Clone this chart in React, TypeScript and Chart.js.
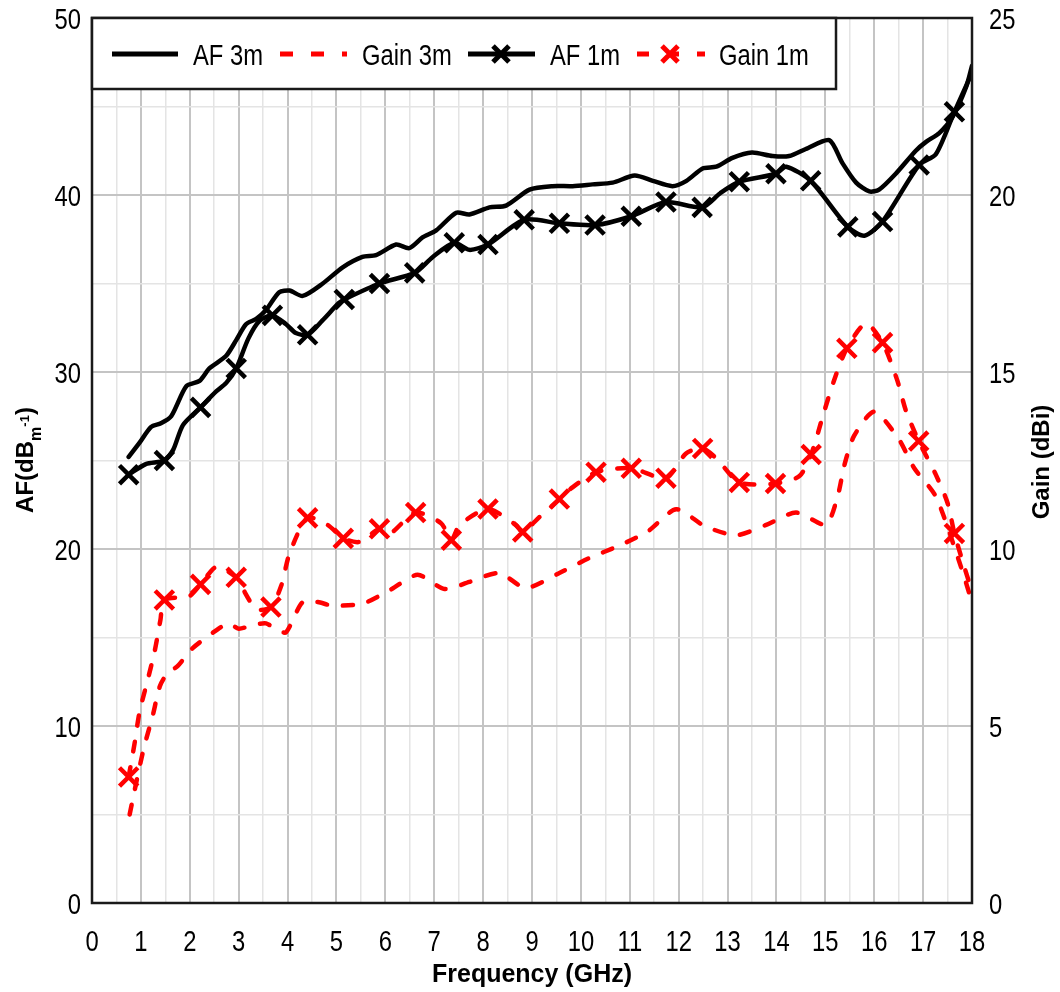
import { useEffect, useRef } from "react";
import { Chart, registerables } from "chart.js";

Chart.register(...registerables);

// ---------- tick labels ----------
const freqTicks = [0, 1, 2, 3, 4, 5, 6, 7, 8, 9, 10, 11, 12, 13, 14, 15, 16, 17, 18];
const afTicks = [0, 10, 20, 30, 40, 50];
const gainTicks = [0, 5, 10, 15, 20, 25];

const seriesNames = ["AF 3m", "Gain 3m", "AF 1m", "Gain 1m"];
const xTitle = "Frequency (GHz)";
const rightTitle = "Gain (dBi)";

// ---------- AF 3m (dB/m) ----------
const af3mFreq = [
  0.75, 0.97, 1.21, 1.41, 1.62, 1.93, 2.2, 2.4, 2.74, 2.95, 3.15, 3.36, 3.56, 3.83, 4.04, 4.31,
  4.72, 5.12, 5.53, 5.81, 6.22, 6.49, 6.76, 7.04, 7.45, 7.72, 8.13, 8.47, 8.95, 9.42, 9.83,
  10.24, 10.65, 11.1, 11.47, 11.87, 12.16, 12.49, 12.77, 13.1, 13.5, 13.92, 14.26, 14.6,
  15.08, 15.35, 15.63, 15.9, 16.1, 16.44, 16.85, 17.06, 17.33, 17.6, 17.88, 18.0,
];
const af3mValue = [
  25.2, 26.0, 26.9, 27.1, 27.5, 29.2, 29.5, 30.2, 30.9, 31.8, 32.7, 33.0, 33.5, 34.5, 34.6, 34.3,
  35.0, 35.9, 36.5, 36.6, 37.2, 37.0, 37.6, 38.0, 39.0, 38.9, 39.3, 39.4, 40.3, 40.5, 40.5,
  40.6, 40.7, 41.1, 40.8, 40.5, 40.8, 41.5, 41.6, 42.1, 42.4, 42.2, 42.2, 42.6,
  43.1, 41.8, 40.7, 40.2, 40.3, 41.2, 42.5, 43.0, 43.5, 44.4, 46.1, 47.3,
];

// ---------- AF 1m (dB/m): marked points + trace between them ----------
const af1mMarkFreq = [
  0.75, 1.48, 2.22, 2.95, 3.69, 4.41, 5.16, 5.88, 6.6, 7.41, 8.1, 8.84, 9.56, 10.29, 11.03,
  11.74, 12.48, 13.24, 13.99, 14.7, 15.46, 16.17, 16.92, 17.64,
];
const af1mMarkValue = [
  24.2, 25.0, 28.0, 30.2, 33.2, 32.1, 34.1, 35.0, 35.6, 37.3, 37.2, 38.6, 38.4, 38.3, 38.8,
  39.6, 39.3, 40.75, 41.2, 40.8, 38.2, 38.5, 41.7, 44.7,
];
const af1mTraceFreq = [1.1, 1.66, 1.86, 2.54, 2.75, 3.2, 3.43, 3.97, 4.17, 4.71, 5.05, 6.97, 7.72, 12.85, 14.2, 15.8, 17.26, 18.0];
const af1mTraceValue = [24.8, 25.6, 27.0, 28.9, 29.4, 31.9, 32.9, 32.7, 32.2, 32.9, 33.9, 36.5, 36.9, 40.1, 41.6, 37.7, 42.3, 46.9];

// ---------- Gain 3m (dBi) ----------
const gain3mFreq = [
  0.77, 0.92, 1.07, 1.24, 1.39, 1.55, 1.75, 2.06, 2.54, 2.8, 3.0, 3.3, 3.56, 3.8, 3.97, 4.31,
  4.62, 4.92, 5.54, 6.12, 6.66, 7.21, 7.72, 8.33, 8.87, 9.56, 10.15, 10.79, 11.37, 11.95,
  12.53, 13.17, 13.79, 14.4, 15.01, 15.25, 15.39, 15.59, 16.0, 16.49, 16.82, 17.26, 17.74, 18.0,
];
const gain3mValue = [
  2.5, 3.5, 4.43, 5.28, 6.13, 6.5, 6.69, 7.2, 7.7, 7.9, 7.75, 7.85, 7.9, 7.7, 7.65, 8.5,
  8.5, 8.4, 8.46, 8.86, 9.27, 8.87, 9.07, 9.32, 8.9, 9.32, 9.73, 10.1, 10.5, 11.12,
  10.65, 10.39, 10.68, 11.03, 10.69, 11.48, 12.37, 13.2, 13.88, 13.13, 12.28, 11.48, 9.64, 8.5,
];

// ---------- Gain 1m (dBi): marked points + trace between them ----------
const gain1mMarkFreq = [
  0.75, 1.48, 2.22, 2.95, 3.66, 4.41, 5.14, 5.88, 6.62, 7.35, 8.1, 8.81, 9.56, 10.31, 11.03,
  11.74, 12.49, 13.24, 13.98, 14.71, 15.44, 16.17, 16.91, 17.64,
];
const gain1mMarkValue = [
  3.56, 8.56, 9.0, 9.2, 8.36, 10.88, 10.3, 10.57, 11.03, 10.25, 11.13, 10.48, 11.41, 12.17, 12.28,
  12.0, 12.84, 11.88, 11.85, 12.67, 15.67, 15.83, 13.05, 10.44,
];
const gain1mTraceFreq = [
  0.87, 0.97, 1.12, 1.28, 1.4, 1.99, 2.55, 3.05, 3.36, 3.87, 4.04, 4.82, 5.47, 6.08, 7.14, 7.52,
  8.67, 9.15, 9.76, 12.15, 12.77, 14.47, 14.98, 15.18, 15.83, 16.47, 16.65, 17.26, 17.5, 17.81, 18.0,
];
const gain1mTraceValue = [
  4.5, 5.38, 6.2, 7.1, 8.0, 8.67, 9.5, 8.96, 8.3, 8.96, 9.87, 10.68, 10.2, 10.42, 10.73, 10.68,
  10.68, 10.9, 11.67, 12.7, 12.56, 12.06, 13.9, 14.77, 16.37, 14.77, 13.9, 12.1, 11.3, 9.64, 8.8,
];

// ---------- helpers ----------
const toPoints = (f: number[], v: number[]) => f.map((x, i) => ({ x, y: v[i] }));
const merged = (fa: number[], va: number[], fb: number[], vb: number[]) =>
  [...toPoints(fa, va), ...toPoints(fb, vb)].sort((a, b) => a.x - b.x);

const SANS = "'Liberation Sans', Arial, Helvetica, sans-serif";
const NARROW_FONT = `29px ${SANS}`;
const NARROW_SCALE = 0.82;
const RED = "#ff0000";
const BLACK = "#000000";
const DASH = [10, 16];

// draws condensed text (Arial-Narrow look) as real canvas text
function narrowText(
  ctx: CanvasRenderingContext2D,
  text: string,
  x: number,
  y: number,
  align: CanvasTextAlign,
  baseline: CanvasTextBaseline
) {
  ctx.save();
  ctx.translate(x, y);
  ctx.scale(NARROW_SCALE, 1);
  ctx.font = NARROW_FONT;
  ctx.textAlign = align;
  ctx.textBaseline = baseline;
  ctx.fillStyle = BLACK;
  ctx.fillText(text, 0, 0);
  ctx.restore();
}

const overlayPlugin = {
  id: "overlay",
  afterDraw(chart: any) {
    const ctx: CanvasRenderingContext2D = chart.ctx;
    const a = chart.chartArea;
    const sx = chart.scales.x;
    const sy = chart.scales.y;
    const sy2 = chart.scales.y2;
    ctx.save();
    // plot frame
    ctx.strokeStyle = "#1a1a1a";
    ctx.lineWidth = 2.5;
    ctx.strokeRect(a.left, a.top, a.right - a.left, a.bottom - a.top);

    // tick labels
    freqTicks.forEach((v) => narrowText(ctx, String(v), sx.getPixelForValue(v), a.bottom + 48, "center", "alphabetic"));
    afTicks.forEach((v) => narrowText(ctx, String(v), a.left - 11, sy.getPixelForValue(v) + 10.5, "right", "alphabetic"));
    gainTicks.forEach((v) => narrowText(ctx, String(v), a.right + 17, sy2.getPixelForValue(v) + 10.5, "left", "alphabetic"));

    // legend box
    const lx = a.left;
    const ly = a.top;
    const lw = 836 - a.left;
    const lh = 71;
    ctx.fillStyle = "#ffffff";
    ctx.fillRect(lx, ly, lw, lh);
    ctx.strokeRect(lx, ly, lw, lh);
    const cy = ly + 36;
    ctx.lineCap = "butt";

    const drawX = (x: number, color: string) => {
      ctx.save();
      ctx.strokeStyle = color;
      ctx.lineWidth = 5;
      ctx.setLineDash([]);
      ctx.beginPath();
      ctx.moveTo(x - 8, cy - 8);
      ctx.lineTo(x + 8, cy + 8);
      ctx.moveTo(x + 8, cy - 8);
      ctx.lineTo(x - 8, cy + 8);
      ctx.stroke();
      ctx.restore();
    };
    const drawLine = (x0: number, x1: number, color: string, dash: number[]) => {
      ctx.save();
      ctx.strokeStyle = color;
      ctx.lineWidth = 5;
      ctx.setLineDash(dash);
      ctx.beginPath();
      ctx.moveTo(x0, cy);
      ctx.lineTo(x1, cy);
      ctx.stroke();
      ctx.restore();
    };
    const ty = cy + 10.5;
    // AF 3m
    drawLine(112, 178, BLACK, []);
    narrowText(ctx, seriesNames[0], 193, ty, "left", "alphabetic");
    // Gain 3m
    drawLine(280, 347, RED, [13, 18]);
    narrowText(ctx, seriesNames[1], 362, ty, "left", "alphabetic");
    // AF 1m
    drawLine(468, 535, BLACK, []);
    drawX(501, BLACK);
    narrowText(ctx, seriesNames[2], 550, ty, "left", "alphabetic");
    // Gain 1m
    drawLine(637, 705, RED, [12, 18]);
    drawX(670, RED);
    narrowText(ctx, seriesNames[3], 719, ty, "left", "alphabetic");

    // x title
    ctx.fillStyle = BLACK;
    ctx.font = `bold 25px ${SANS}`;
    ctx.textAlign = "center";
    ctx.textBaseline = "alphabetic";
    ctx.fillText(xTitle, (a.left + a.right) / 2, 982);

    // right title
    ctx.save();
    ctx.translate(1049, 462);
    ctx.rotate(-Math.PI / 2);
    ctx.font = `bold 24px ${SANS}`;
    ctx.textAlign = "center";
    ctx.fillText(rightTitle, 0, 0);
    ctx.restore();

    // left title AF(dB m^-1)
    ctx.save();
    ctx.translate(33, 460);
    ctx.rotate(-Math.PI / 2);
    ctx.textAlign = "left";
    const big = `bold 24px ${SANS}`;
    const sub = `bold 16px ${SANS}`;
    const sup = `bold 13px ${SANS}`;
    const parts: [string, string, number][] = [
      ["AF(dB", big, 0],
      ["m", sub, 8],
      ["-1", sup, -4],
      [")", big, 0],
    ];
    let total = 0;
    const widths = parts.map(([t, f]) => {
      ctx.font = f;
      const w = ctx.measureText(t).width;
      total += w;
      return w;
    });
    let px = -total / 2;
    parts.forEach(([t, f, dy], i) => {
      ctx.font = f;
      ctx.fillText(t, px, dy);
      px += widths[i];
    });
    ctx.restore();

    ctx.restore();
  },
};

export default function App() {
  const ref = useRef<HTMLCanvasElement | null>(null);

  useEffect(() => {
    if (!ref.current) return;
    const lineCommon = {
      borderWidth: 4.5,
      tension: 0.25,
      borderCapStyle: "round" as const,
      borderJoinStyle: "round" as const,
      pointRadius: 0,
      pointHoverRadius: 0,
      fill: false,
    };
    const chart = new Chart(ref.current, {
      type: "line",
      data: {
        datasets: [
          {
            ...lineCommon,
            label: seriesNames[0],
            data: toPoints(af3mFreq, af3mValue),
            borderColor: BLACK,
            yAxisID: "y",
          },
          {
            ...lineCommon,
            label: seriesNames[2],
            data: merged(af1mMarkFreq, af1mMarkValue, af1mTraceFreq, af1mTraceValue),
            borderColor: BLACK,
            yAxisID: "y",
          },
          {
            label: seriesNames[2] + " markers",
            data: toPoints(af1mMarkFreq, af1mMarkValue),
            showLine: false,
            pointStyle: "crossRot",
            pointRadius: 13,
            pointBorderWidth: 4.5,
            pointBorderColor: BLACK,
            borderColor: BLACK,
            yAxisID: "y",
          },
          {
            ...lineCommon,
            label: seriesNames[1],
            data: toPoints(gain3mFreq, gain3mValue),
            borderColor: RED,
            borderDash: DASH,
            yAxisID: "y2",
          },
          {
            ...lineCommon,
            label: seriesNames[3],
            data: merged(gain1mMarkFreq, gain1mMarkValue, gain1mTraceFreq, gain1mTraceValue),
            borderColor: RED,
            borderDash: DASH,
            yAxisID: "y2",
          },
          {
            label: seriesNames[3] + " markers",
            data: toPoints(gain1mMarkFreq, gain1mMarkValue),
            showLine: false,
            pointStyle: "crossRot",
            pointRadius: 13,
            pointBorderWidth: 4.5,
            pointBorderColor: RED,
            borderColor: RED,
            yAxisID: "y2",
          },
        ],
      },
      options: {
        animation: false,
        responsive: false,
        devicePixelRatio: 1,
        layout: { padding: { top: 18, left: 0, right: 0, bottom: 0 } },
        plugins: { legend: { display: false }, tooltip: { enabled: false } },
        scales: {
          x: {
            type: "linear",
            min: 0,
            max: 18,
            afterFit: (s: any) => {
              s.height = 89;
            },
            ticks: { stepSize: 0.5, autoSkip: false, maxRotation: 0, display: false },
            grid: {
              drawTicks: false,
              color: (c: any) => (c.tick && Number.isInteger(c.tick.value) ? "#c4c4c4" : "#e4e4e4"),
              lineWidth: (c: any) => (c.tick && Number.isInteger(c.tick.value) ? 2 : 1.5),
            },
            border: { display: false },
          },
          y: {
            type: "linear",
            position: "left",
            min: 0,
            max: 50,
            afterFit: (s: any) => {
              s.width = 92;
            },
            ticks: { stepSize: 5, autoSkip: false, display: false },
            grid: {
              drawTicks: false,
              color: (c: any) => (c.tick && c.tick.value % 10 === 0 ? "#c4c4c4" : "#e4e4e4"),
              lineWidth: (c: any) => (c.tick && c.tick.value % 10 === 0 ? 2 : 1.5),
            },
            border: { display: false },
          },
          y2: {
            type: "linear",
            position: "right",
            min: 0,
            max: 25,
            afterFit: (s: any) => {
              s.width = 88;
            },
            ticks: { stepSize: 5, autoSkip: false, display: false },
            grid: { drawOnChartArea: false, drawTicks: false },
            border: { display: false },
          },
        },
      },
      plugins: [overlayPlugin],
    });
    return () => chart.destroy();
  }, []);

  return (
    <div style={{ position: "absolute", left: 0, top: 0, width: 1060, height: 992, background: "#fff" }}>
      <canvas ref={ref} width={1060} height={992} style={{ display: "block" }} />
    </div>
  );
}
